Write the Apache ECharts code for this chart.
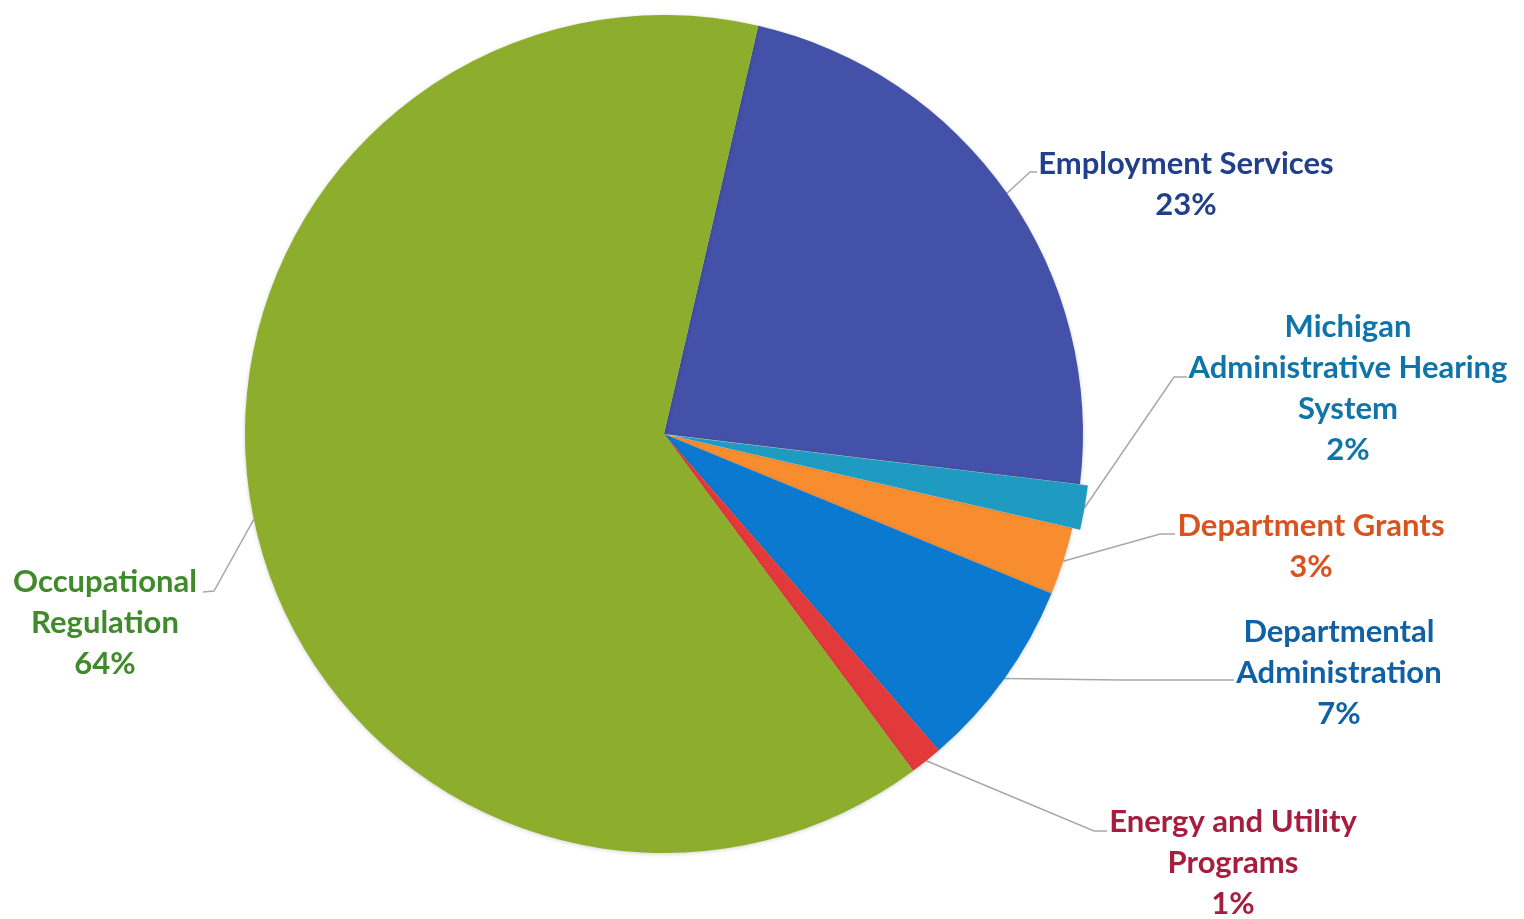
<!DOCTYPE html>
<html><head><meta charset="utf-8">
<script src="https://cdn.jsdelivr.net/npm/echarts@6/dist/echarts.min.js"></script>
<style>html,body{margin:0;padding:0;background:#fff}#c{width:1524px;height:919px}</style>
</head><body><div id="c"></div>
<script>
// ---- data ----
const categories = ['Employment Services', 'Michigan Administrative Hearing System', 'Department Grants', 'Departmental Administration', 'Energy and Utility Programs', 'Occupational Regulation'];
const labelText = ['Employment Services', 'Michigan\nAdministrative Hearing\nSystem', 'Department Grants', 'Departmental\nAdministration', 'Energy and Utility\nPrograms', 'Occupational\nRegulation'];
const values = [23.3, 1.7, 2.6, 7.4, 1.25, 63.75];
const explodedIndex = 1;

// ---- styles / layout ----
const sliceColors = ['#4451a8', '#1f9bc2', '#f88d2f', '#0b79d0', '#e23a3b', '#8cae2c'];
const textColors = ['#22408a', '#0f74aa', '#d9531f', '#0f60a5', '#a51e3e', '#3f8a2b'];
const labelPlace = [
  { x: 1186, y: 184, elbow: [1030, 172], end: [1037, 172] },
  { x: 1348, y: 388, elbow: [1174, 377], end: [1187, 377] },
  { x: 1311, y: 546, elbow: [1160, 534], end: [1175, 534] },
  { x: 1339, y: 673, elbow: [1120, 680], end: [1234, 680] },
  { x: 1233, y: 863, elbow: [1094, 831], end: [1107, 831] },
  { x: 105, y: 623, elbow: [214, 591], end: [203, 592] }
];
const CX = 664, CY = 434, R = 419, START = 77, EXPLODE = 8;

// offset of the exploded slice along its mid-angle (derived from the values)
const total = values.reduce((a, b) => a + b, 0);
let before = 0;
for (let i = 0; i < explodedIndex; i++) before += values[i];
const midDeg = START - (before + values[explodedIndex] / 2) / total * 360;
const midRad = midDeg * Math.PI / 180;
const offX = EXPLODE * Math.cos(midRad), offY = -EXPLODE * Math.sin(midRad);

const transparent = 'rgba(0,0,0,0)';
const chart = echarts.init(document.getElementById('c'));
chart.setOption({
  animation: false,
  backgroundColor: '#ffffff',
  series: [{
    type: 'pie',
    center: [CX, CY],
    radius: R,
    startAngle: START,
    clockwise: true,
    avoidLabelOverlap: false,
    silent: true,
    z: 2,
    data: categories.map((n, i) => ({
      name: n,
      value: values[i],
      itemStyle: { color: i === explodedIndex ? transparent : sliceColors[i] },
      label: { color: textColors[i] }
    })),
    itemStyle: { borderWidth: 0, shadowBlur: 4, shadowColor: 'rgba(0,0,0,0.18)', shadowOffsetX: 0, shadowOffsetY: 1 },
    label: {
      show: true,
      position: 'outside',
      fontFamily: 'Lato',
      fontWeight: 'bold',
      fontSize: 31,
      lineHeight: 41,
      align: 'center',
      formatter: p => labelText[p.dataIndex] + '\n' + Math.round(p.percent) + '%'
    },
    labelLine: { show: true, length: 20, length2: 10, lineStyle: { color: '#a8a8a8', width: 1.5 } },
    labelLayout: function (params) {
      const i = params.dataIndex;
      const L = labelPlace[i];
      const out = { x: L.x, y: L.y, align: 'center', verticalAlign: 'middle' };
      if (params.labelLinePoints && params.labelLinePoints.length) {
        let p0 = params.labelLinePoints[0].slice();
        if (i === explodedIndex) { p0 = [p0[0] + offX, p0[1] + offY]; }
        out.labelLinePoints = [p0, L.elbow, L.end];
      }
      return out;
    }
  }, {
    type: 'pie',
    center: [CX + offX, CY + offY],
    radius: R,
    startAngle: START,
    clockwise: true,
    silent: true,
    z: 3,
    label: { show: false },
    labelLine: { show: false },
    data: categories.map((n, i) => ({
      name: n,
      value: values[i],
      itemStyle: i === explodedIndex
        ? { color: sliceColors[i], shadowBlur: 3, shadowColor: 'rgba(0,0,0,0.2)' }
        : { color: transparent }
    }))
  }]
});
</script>
</body></html>
